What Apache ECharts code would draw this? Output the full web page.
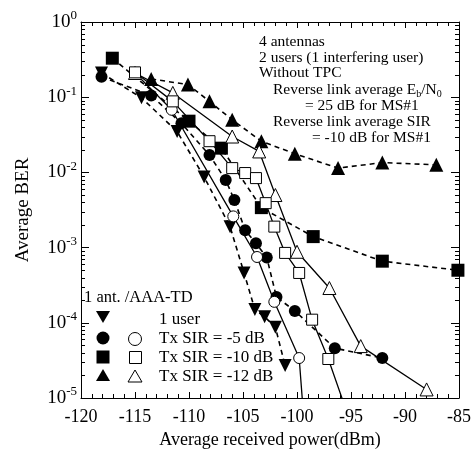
<!DOCTYPE html>
<html>
<head>
<meta charset="utf-8">
<script src="https://cdn.jsdelivr.net/npm/echarts@6/dist/echarts.min.js"></script>
<style>
  html, body { margin: 0; padding: 0; background: #fff; }
  #chart { width: 474px; height: 455px; }
</style>
</head>
<body>
<div id="chart"></div>
<script>
// axis range
var xMin = -120, xMax = -85;
var yMin = 1e-5, yMax = 1;

// 1 user (filled down triangle)
var oneUserX = [-118.1, -114.4, -111.1, -108.6, -106.2, -104.9, -103.9, -103.0, -102.0, -101.1];
var oneUserY = [0.21, 0.098, 0.035, 0.0087, 0.0019, 4.6e-4, 1.5e-4, 1.2e-4, 8.7e-5, 2.7e-5];

// Tx SIR = -5 dB
var sir5FillX = [-118.1, -113.5, -110.7, -108.1, -106.6, -105.8, -104.8, -103.8, -102.8, -101.9, -100.2, -96.5, -92.1];
var sir5FillY = [0.187, 0.105, 0.045, 0.017, 0.0079, 0.0043, 0.0017, 0.00114, 7.4e-4, 2.2e-4, 1.44e-4, 4.6e-5, 3.4e-5];
var sir5OpenX = [-115.0, -111.6, -105.9, -103.7, -102.1, -99.8, -99.4];
var sir5OpenY = [0.21, 0.068, 0.0026, 7.5e-4, 1.9e-4, 3.4e-5, 6e-6];

// Tx SIR = -10 dB
var sir10FillX = [-117.1, -110.0, -107.0, -103.3, -98.5, -92.1, -85.1];
var sir10FillY = [0.33, 0.048, 0.021, 0.0034, 0.0014, 6.6e-4, 5.0e-4];
var sir10OpenX = [-115.0, -111.5, -108.1, -106.0, -104.8, -103.8, -102.9, -102.1, -101.1, -99.8, -98.6, -97.1, -95.3];
var sir10OpenY = [0.214, 0.088, 0.026, 0.0114, 0.0098, 0.0084, 0.0039, 0.0019, 8.5e-4, 4.6e-4, 1.1e-4, 3.3e-5, 6e-6];

// Tx SIR = -12 dB
var sir12FillX = [-113.5, -110.1, -108.1, -106.0, -103.3, -100.2, -96.2, -92.1, -87.1];
var sir12FillY = [0.175, 0.147, 0.088, 0.05, 0.026, 0.0177, 0.0114, 0.0135, 0.0126];
var sir12OpenX = [-115.0, -111.5, -106.0, -103.5, -102.0, -100.0, -97.0, -94.1, -88.0];
var sir12OpenY = [0.21, 0.114, 0.030, 0.019, 0.005, 8.8e-4, 2.9e-4, 4.9e-5, 1.3e-5];

var FONT = '"Liberation Serif", "Times New Roman", serif';

function pairs(xs, ys) {
    return xs.map(function (x, i) { return [x, ys[i]]; });
}

// log minor ticks 2..9 x 10^k
var minorVals = [];
for (var k = -5; k < 0; k++) {
    for (var m = 2; m <= 9; m++) minorVals.push(m * Math.pow(10, k));
}

function lineSeries(name, xs, ys, symbol, filled, dashed, size, rotate) {
    return {
        name: name,
        type: 'line',
        data: pairs(xs, ys),
        symbol: symbol,
        symbolSize: size,
        symbolRotate: rotate || 0,
        showAllSymbol: true,
        clip: true,
        lineStyle: { color: '#000', width: dashed ? 1.6 : 1.3, type: dashed ? [5, 4] : 'solid' },
        itemStyle: filled ? { color: '#000' } : { color: '#fff', borderColor: '#000', borderWidth: 1 },
        emphasis: { disabled: true }
    };
}

var myChart = echarts.init(document.getElementById('chart'));
var option = {
    animation: false,
    grid: { left: 81, right: 15, top: 22, bottom: 57 },
    xAxis: [
        {
            type: 'value', min: xMin, max: xMax, interval: 5,
            name: 'Average received power(dBm)', nameLocation: 'middle', nameGap: 33,
            nameTextStyle: { fontFamily: FONT, fontSize: 18, color: '#000' },
            axisLine: { onZero: false, lineStyle: { color: '#000', width: 1 } },
            axisTick: { inside: true, length: 6, lineStyle: { color: '#000' } },
            minorTick: { show: true, splitNumber: 5, length: 4, lineStyle: { color: '#000' } },
            splitLine: { show: false },
            axisLabel: { margin: 10, fontFamily: FONT, fontSize: 18, color: '#000' }
        },
        {
            type: 'value', min: xMin, max: xMax, interval: 5, position: 'top',
            axisLine: { onZero: false, lineStyle: { color: '#000', width: 1 } },
            axisTick: { inside: true, length: 6, lineStyle: { color: '#000' } },
            minorTick: { show: true, splitNumber: 5, length: 4, lineStyle: { color: '#000' } },
            splitLine: { show: false },
            axisLabel: { show: false }
        }
    ],
    yAxis: [
        {
            type: 'log', logBase: 10, min: yMin, max: yMax,
            name: 'Average BER', nameLocation: 'middle', nameGap: 48,
            nameTextStyle: { fontFamily: FONT, fontSize: 19, color: '#000' },
            axisLine: { lineStyle: { color: '#000', width: 1 } },
            axisTick: { inside: true, length: 8, lineStyle: { color: '#000' } },
            splitLine: { show: false },
            axisLabel: {
                margin: 4,
                formatter: function (v) {
                    var e = Math.round(Math.log(v) / Math.LN10);
                    return '{b|10}{s|' + e + '}';
                },
                rich: {
                    b: { fontFamily: FONT, fontSize: 19, color: '#000' },
                    s: { fontFamily: FONT, fontSize: 13, color: '#000', padding: [0, 0, 12, 0] }
                }
            }
        },
        {
            type: 'log', logBase: 10, min: yMin, max: yMax, position: 'right',
            axisLine: { lineStyle: { color: '#000', width: 1 } },
            axisTick: { inside: true, length: 8, lineStyle: { color: '#000' } },
            splitLine: { show: false },
            axisLabel: { show: false }
        }
    ],
    series: [
        {
            type: 'custom',
            silent: true,
            data: minorVals.map(function (v) { return [xMin, v]; }),
            renderItem: function (params, api) {
                var v = api.value(1);
                var a = api.coord([xMin, v]);
                var b = api.coord([xMax, v]);
                var y = Math.round(a[1]) + 0.5;
                return {
                    type: 'group',
                    children: [
                        { type: 'line', shape: { x1: a[0], y1: y, x2: a[0] + 4, y2: y }, style: { stroke: '#000', lineWidth: 1 } },
                        { type: 'line', shape: { x1: b[0] - 4, y1: y, x2: b[0], y2: y }, style: { stroke: '#000', lineWidth: 1 } }
                    ]
                };
            }
        },
        lineSeries('1 user', oneUserX, oneUserY, 'triangle', true, true, 13, 180),
        lineSeries('1 ant. -5 dB', sir5FillX, sir5FillY, 'circle', true, true, 12),
        lineSeries('1 ant. -10 dB', sir10FillX, sir10FillY, 'rect', true, true, 13),
        lineSeries('1 ant. -12 dB', sir12FillX, sir12FillY, 'triangle', true, true, 14),
        lineSeries('AAA-TD -5 dB', sir5OpenX, sir5OpenY, 'circle', false, false, 11),
        lineSeries('AAA-TD -12 dB', sir12OpenX, sir12OpenY, 'triangle', false, false, 13),
        lineSeries('AAA-TD -10 dB', sir10OpenX, sir10OpenY, 'rect', false, false, 11)
    ],
    graphic: [
        { type: 'text', x: 259, y: 42, style: { text: '4 antennas', font: '15.5px ' + FONT, fill: '#000', verticalAlign: 'middle' } },
        { type: 'text', x: 259, y: 58, style: { text: '2 users (1 interfering user)', font: '15.5px ' + FONT, fill: '#000', verticalAlign: 'middle' } },
        { type: 'text', x: 259, y: 73, style: { text: 'Without TPC', font: '15.5px ' + FONT, fill: '#000', verticalAlign: 'middle' } },
        {
            type: 'text', x: 273, y: 90,
            style: {
                text: 'Reverse link average E{sub|b}/N{sub|0}',
                font: '15.5px ' + FONT, fill: '#000', verticalAlign: 'middle',
                rich: { sub: { fontFamily: FONT, fontSize: 10, fill: '#000', padding: [9, 0, 0, 0] } }
            }
        },
        { type: 'text', x: 305, y: 106, style: { text: '= 25 dB for MS#1', font: '15.5px ' + FONT, fill: '#000', verticalAlign: 'middle' } },
        { type: 'text', x: 273, y: 122, style: { text: 'Reverse link average SIR', font: '15.5px ' + FONT, fill: '#000', verticalAlign: 'middle' } },
        { type: 'text', x: 312, y: 138, style: { text: '= -10 dB for MS#1', font: '15.5px ' + FONT, fill: '#000', verticalAlign: 'middle' } },

        // legend block
        { type: 'text', x: 84, y: 298, style: { text: '1 ant. /AAA-TD', font: '16.5px ' + FONT, fill: '#000', verticalAlign: 'middle' } },
        { type: 'polygon', shape: { points: [[96, 311], [110, 311], [103, 323]] }, style: { fill: '#000' } },
        { type: 'circle', shape: { cx: 103, cy: 338, r: 6.5 }, style: { fill: '#000' } },
        { type: 'rect', shape: { x: 96.5, y: 350.5, width: 13, height: 13 }, style: { fill: '#000' } },
        { type: 'polygon', shape: { points: [[96, 381], [110, 381], [103, 369]] }, style: { fill: '#000' } },
        { type: 'circle', shape: { cx: 135, cy: 339, r: 6.5 }, style: { fill: '#fff', stroke: '#000', lineWidth: 1 } },
        { type: 'rect', shape: { x: 129.5, y: 351.5, width: 12, height: 12 }, style: { fill: '#fff', stroke: '#000', lineWidth: 1 } },
        { type: 'polygon', shape: { points: [[128, 382], [142, 382], [135, 370]] }, style: { fill: '#fff', stroke: '#000', lineWidth: 1 } },
        { type: 'text', x: 159, y: 320, style: { text: '1 user', font: '17px ' + FONT, fill: '#000', verticalAlign: 'middle' } },
        { type: 'text', x: 159, y: 339, style: { text: 'Tx SIR = -5 dB', font: '17px ' + FONT, fill: '#000', verticalAlign: 'middle' } },
        { type: 'text', x: 159, y: 358, style: { text: 'Tx SIR = -10 dB', font: '17px ' + FONT, fill: '#000', verticalAlign: 'middle' } },
        { type: 'text', x: 159, y: 377, style: { text: 'Tx SIR = -12 dB', font: '17px ' + FONT, fill: '#000', verticalAlign: 'middle' } }
    ]
};
myChart.setOption(option);
</script>
</body>
</html>
